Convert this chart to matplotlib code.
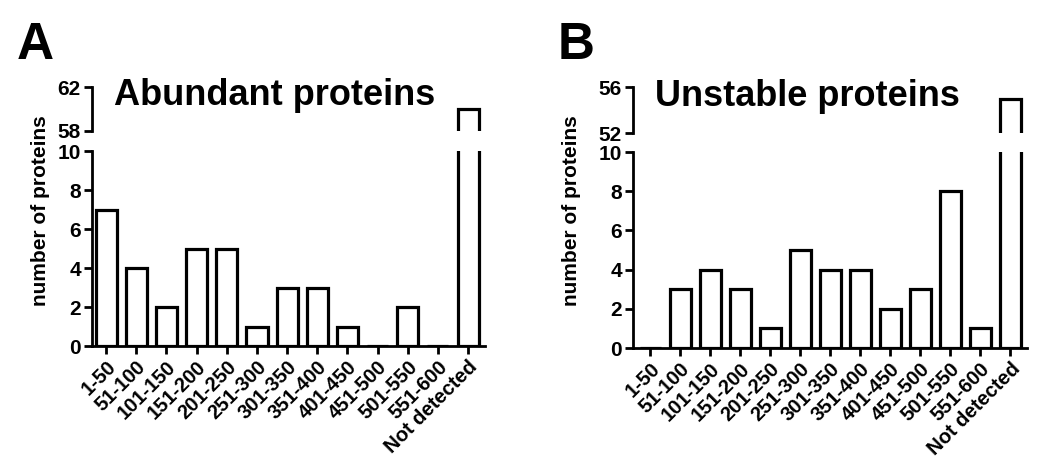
import numpy as np
import matplotlib.pyplot as plt

plt.rcParams['font.family'] = ['Liberation Sans', 'DejaVu Sans']
plt.rcParams['font.weight'] = 'bold'

categories = ["1-50", "51-100", "101-150", "151-200", "201-250", "251-300",
              "301-350", "351-400", "401-450", "451-500", "501-550", "551-600",
              "Not detected"]
abundant = [7, 4, 2, 5, 5, 1, 3, 3, 1, 0, 2, 0, 60]
unstable = [0, 3, 4, 3, 1, 5, 4, 4, 2, 3, 8, 1, 55]

fig = plt.figure(figsize=(10.5, 4.67), dpi=100)


def style_axis(ax):
    for s in ["top", "right"]:
        ax.spines[s].set_visible(False)
    for s in ["left", "bottom"]:
        ax.spines[s].set_linewidth(2.0)
    ax.tick_params(width=2.0, length=6, labelsize=15, direction="out", pad=2)


def panel(values, title, letter, lower_pos, upper_pos, upper_lim, xleft, ylab_x):
    x = np.arange(len(categories))
    low = fig.add_axes(lower_pos)
    up = fig.add_axes(upper_pos)
    for ax in (low, up):
        ax.bar(x, values, width=0.7, color="white", edgecolor="black",
               linewidth=2.3)
        ax.set_xlim(xleft, 12.55)
        style_axis(ax)
    low.set_ylim(0, 10)
    low.set_yticks([0, 2, 4, 6, 8, 10])
    low.set_xticks(x)
    low.set_xticklabels(categories, rotation=45, ha="right",
                        rotation_mode="anchor", fontsize=14.5)

    up.set_ylim(*upper_lim)
    up.set_yticks(list(upper_lim))
    up.spines["bottom"].set_visible(False)
    up.set_xticks([])
    up.text(0.055, 0.8, title, transform=up.transAxes, fontsize=26,
            fontweight="bold", va="center")
    fig.text(ylab_x, 0.548, "number of proteins", rotation=90, fontsize=15,
             fontweight="bold", ha="center", va="center")
    fig.text(lower_pos[0] - 0.072, 0.955, letter, fontsize=37,
             fontweight="bold", va="top")


panel(abundant, "Abundant proteins", "A",
      [0.0876, 0.259, 0.374, 0.4176], [0.0876, 0.7195, 0.374, 0.0942],
      (58, 62), -0.47, 0.039)
panel(unstable, "Unstable proteins", "B",
      [0.6029, 0.2548, 0.375, 0.4197], [0.6029, 0.7152, 0.375, 0.0985],
      (52, 56), -0.57, 0.544)

plt.savefig("out.png", dpi=100)
